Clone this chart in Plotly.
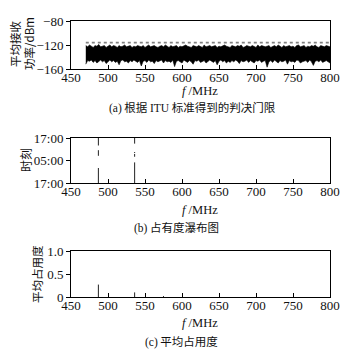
import plotly.graph_objects as go

# ---------------- data ----------------
# (a) average received power (dBm): band envelope on a 2.5 MHz grid from 470 MHz
freq_start = 470.0
freq_step = 2.5
power_lower = [-152,-146,-147,-145,-149,-146,-150,-147,-145,-148,
               -146,-151,-147,-145,-148,-146,-149,-147,-153,-146,
               -145,-148,-147,-150,-146,-148,-145,-147,-149,-146,
               -155,-147,-146,-149,-145,-148,-147,-151,-146,-148,
               -147,-145,-150,-146,-148,-147,-149,-145,-156,-147,
               -146,-148,-150,-145,-147,-149,-146,-148,-152,-146,
               -147,-145,-149,-147,-146,-150,-148,-145,-147,-149,
               -146,-153,-147,-145,-148,-146,-150,-147,-149,-146,
               -148,-145,-147,-151,-146,-148,-147,-145,-149,-146,
               -148,-150,-146,-147,-145,-149,-147,-146,-157,-148,
               -146,-149,-145,-147,-150,-146,-148,-147,-145,-152,
               -146,-148,-147,-149,-145,-146,-150,-148,-147,-146,
               -149,-145,-148,-154,-147,-146,-148,-145,-149,-147,
               -146,-148,-150]
power_upper = [-121,-123,-120,-122,-124,-121,-122,-119,-123,-122,
               -121,-124,-122,-120,-123,-121,-122,-124,-121,-123,
               -122,-120,-123,-122,-121,-124,-122,-123,-121,-122,
               -123,-121,-124,-122,-120,-123,-122,-121,-123,-124,
               -122,-121,-123,-120,-122,-124,-121,-123,-122,-121,
               -124,-122,-123,-121,-120,-122,-123,-124,-121,-122,
               -123,-121,-122,-124,-120,-123,-122,-121,-123,-122,
               -121,-124,-122,-123,-121,-120,-122,-123,-124,-121,
               -122,-123,-121,-122,-120,-124,-123,-121,-122,-123,
               -121,-122,-124,-120,-123,-121,-122,-123,-122,-121,
               -124,-122,-121,-123,-120,-122,-124,-121,-123,-122,
               -121,-123,-122,-124,-121,-120,-123,-122,-121,-124,
               -122,-123,-121,-122,-120,-123,-124,-121,-122,-123,
               -121,-122,-123]
threshold_dbm = -116
threshold_span = [470, 800]

# (b) occupancy waterfall: occupied time intervals (hours after 17:00)
occ_freqs = [487, 536]
occ_intervals = [[(0, 8), (14.5, 17.5), (20, 24)],
                 [(0, 11), (14, 15.5), (16, 16.5), (21, 24)]]

# (c) average occupancy
avg_freqs = [487, 536, 575]
avg_vals = [0.27, 0.10, 0.02]

x_ticks = [450, 500, 550, 600, 650, 700, 750, 800]
a_yticks = [-160, -120, -80]
b_yticks = [0, 12, 24]
b_ytext = ["17:00", "05:00", "17:00"]
c_yticks = [0, 0.5, 1.0]
c_ytext = ["0", "0.5", "1.0"]

# ---------------- figure ----------------
OFF = 8                      # page body margin in the browser
W, H = 358 - OFF, 353 - OFF
SERIF = "Liberation Serif"
CJK = "Noto Sans CJK SC"
INK = "#111111"

def px(x):
    return (x - OFF) / W

def py(y):
    return 1 - (y - OFF) / H

freqs = [freq_start + freq_step * i for i in range(len(power_lower))]

fig = go.Figure()

# (a)
fig.add_trace(go.Scatter(x=freqs, y=power_lower, mode="lines",
                         line=dict(color="black", width=0.6),
                         xaxis="x", yaxis="y", showlegend=False))
fig.add_trace(go.Scatter(x=freqs, y=power_upper, mode="lines",
                         line=dict(color="black", width=0.6),
                         fill="tonexty", fillcolor="black",
                         xaxis="x", yaxis="y", showlegend=False))
fig.add_trace(go.Scatter(x=threshold_span, y=[threshold_dbm] * 2, mode="lines",
                         line=dict(color="#808080", width=1.6, dash="dot"),
                         xaxis="x", yaxis="y", showlegend=False))

# (b)
bx, by = [], []
for f, ivs in zip(occ_freqs, occ_intervals):
    for a, b in ivs:
        bx += [f, f, None]
        by += [a, b, None]
fig.add_trace(go.Scatter(x=bx, y=by, mode="lines",
                         line=dict(color="#222222", width=1),
                         xaxis="x2", yaxis="y2", showlegend=False))

# (c)
cx, cy = [], []
for f, v in zip(avg_freqs, avg_vals):
    cx += [f, f, None]
    cy += [0, v, None]
fig.add_trace(go.Scatter(x=cx, y=cy, mode="lines",
                         line=dict(color="#222222", width=1),
                         xaxis="x3", yaxis="y3", showlegend=False))

xdom = [px(71), px(330)]
doms = {"a": [py(69), py(21)], "b": [py(183), py(138)], "c": [py(297), py(251)]}

def xaxis(anchor):
    return dict(domain=xdom, anchor=anchor, range=[450, 800], automargin=False,
                tickvals=x_ticks, ticks="inside", ticklen=4, tickwidth=1,
                tickcolor="black", showline=True, linecolor="black",
                linewidth=1, mirror=True, showgrid=False, zeroline=False,
                ticklabelstandoff=-4,
                tickfont=dict(family=SERIF, size=13, color=INK))

def yaxis(anchor, dom, rng, tv, tt=None):
    d = dict(domain=dom, anchor=anchor, range=rng, tickvals=tv, automargin=False,
             ticks="outside", ticklen=4, tickwidth=1, tickcolor="black",
             showline=True, linecolor="black", linewidth=1, mirror=True,
             showgrid=False, zeroline=False,
             tickfont=dict(family=SERIF, size=13, color=INK))
    if tt is not None:
        d["ticktext"] = tt
    return d

fig.update_layout(
    template="none",
    width=W, height=H, margin=dict(l=0, r=0, t=0, b=0, pad=0),
    paper_bgcolor="white", plot_bgcolor="white",
    xaxis=xaxis("y"), yaxis=yaxis("x", doms["a"], [-160, -80], a_yticks),
    xaxis2=xaxis("y2"), yaxis2=yaxis("x2", doms["b"], [0, 24], b_yticks, b_ytext),
    xaxis3=xaxis("y3"), yaxis3=yaxis("x3", doms["c"], [0, 1], c_yticks, c_ytext),
)

ann = []
def text(x, y, s, size=12, family=CJK, angle=0):
    ann.append(dict(x=px(x), y=py(y), xref="paper", yref="paper", text=s,
                    showarrow=False, textangle=angle, xanchor="center",
                    yanchor="middle", font=dict(family=family, size=size, color=INK)))

fx = "<i>f</i> /MHz"
text(200, 91, fx, size=12.5, family=SERIF)
text(200, 210, fx, size=12.5, family=SERIF)
text(200, 323, fx, size=12.5, family=SERIF)

text(192, 107, "<span style='font-family:Liberation Serif'>(a)</span> 根据 <span style='font-family:Liberation Serif'>ITU</span> 标准得到的判决门限", size=11.5)
text(176, 227, "<span style='font-family:Liberation Serif'>(b)</span> 占有度瀑布图", size=11.5)
text(181, 341, "<span style='font-family:Liberation Serif'>(c)</span> 平均占用度", size=11.5)

text(15, 44, "平均接收", size=11.5, angle=-90)
text(29, 44, "功率/dBm", size=11.5, angle=-90)
text(25, 160, "时刻", size=12, angle=-90)
text(37, 274, "平均占用度", size=11.5, angle=-90)

fig.update_layout(annotations=ann)
fig.write_html("out.html")
